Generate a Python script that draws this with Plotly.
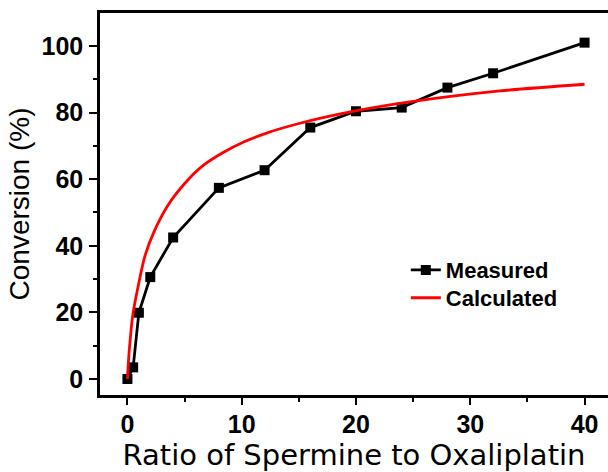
import plotly.graph_objects as go

# Measured data
measured_x = [0, 0.5, 1, 2, 4, 8, 12, 16, 20, 24, 28, 32, 40]
measured_y = [0, 3.5, 19.9, 30.6, 42.5, 57.4, 62.7, 75.5, 80.4, 81.5, 87.5, 91.8, 101]

# Calculated curve
calc_x = [0, 0.14, 0.49, 0.93, 1.51, 2.39, 3.55, 5.01, 6.47, 8.22, 10.26, 12.3, 15.1, 19.5, 24.7, 32.6, 40]
calc_y = [0, 7.7, 19.7, 27.7, 36.7, 44.7, 52.2, 58.7, 63.7, 67.7, 71.3, 74.0, 76.8, 80.2, 83.2, 86.5, 88.5]

x_ticks = [0, 10, 20, 30, 40]
y_ticks = [0, 20, 40, 60, 80, 100]

FONT = "Liberation Sans, Arial, sans-serif"
WIDE = "DejaVu Sans, sans-serif"

fig = go.Figure()
fig.add_trace(go.Scatter(
    x=measured_x, y=measured_y, mode="lines+markers", name="Measured",
    line=dict(color="black", width=2.8),
    marker=dict(symbol="square", size=10, color="black"),
    legend="legend",
))
fig.add_trace(go.Scatter(
    x=calc_x, y=calc_y, mode="lines", name="Calculated",
    line=dict(color="#ff0000", width=2.8, shape="spline", smoothing=0.7),
    legend="legend2",
))

legend_common = dict(
    xanchor="left", yanchor="middle",
    font=dict(family=FONT, size=22, color="black", weight="bold"),
    bgcolor="rgba(0,0,0,0)", itemwidth=30,
)

fig.update_layout(
    width=608, height=472,
    margin=dict(l=100, r=0, t=13, b=77),
    paper_bgcolor="white", plot_bgcolor="white",
    font=dict(family=FONT, color="black"),
    showlegend=True,
    legend=dict(x=0.602, y=0.327, **legend_common),
    legend2=dict(x=0.602, y=0.254, **legend_common),
    xaxis=dict(
        range=[-2.4, 42.05], automargin=False,
        tickvals=x_ticks, ticktext=[str(v) for v in x_ticks],
        ticks="outside", ticklen=7, tickwidth=2, tickcolor="black",
        showline=True, linewidth=2.5, linecolor="black", mirror=True,
        showgrid=False, zeroline=False,
        ticklabelstandoff=-2,
        tickfont=dict(family=FONT, size=25, color="black", weight="bold"),
        minor=dict(tickvals=[5, 15, 25, 35], ticks="outside", ticklen=4, tickwidth=2, tickcolor="black", showgrid=False),
        title=dict(text="Ratio of Spermine to Oxaliplatin", font=dict(family=WIDE, size=29, color="black"), standoff=2),
    ),
    yaxis=dict(
        range=[-4.8, 109.9], automargin=False,
        tickvals=y_ticks, ticktext=[str(v) for v in y_ticks],
        ticks="outside", ticklen=8, tickwidth=2, tickcolor="black",
        showline=True, linewidth=2.5, linecolor="black", mirror=False,
        showgrid=False, zeroline=False,
        ticklabelstandoff=1,
        tickfont=dict(family=FONT, size=25, color="black", weight="bold"),
        minor=dict(tickvals=[10, 30, 50, 70, 90], ticks="outside", ticklen=4, tickwidth=2, tickcolor="black", showgrid=False),
        title=dict(text="Conversion (%)", font=dict(family=FONT, size=28, color="black"), standoff=4),
    ),
)

fig.write_html("out.html", config={"displayModeBar": False},
               post_script="document.body.style.margin='0';")
